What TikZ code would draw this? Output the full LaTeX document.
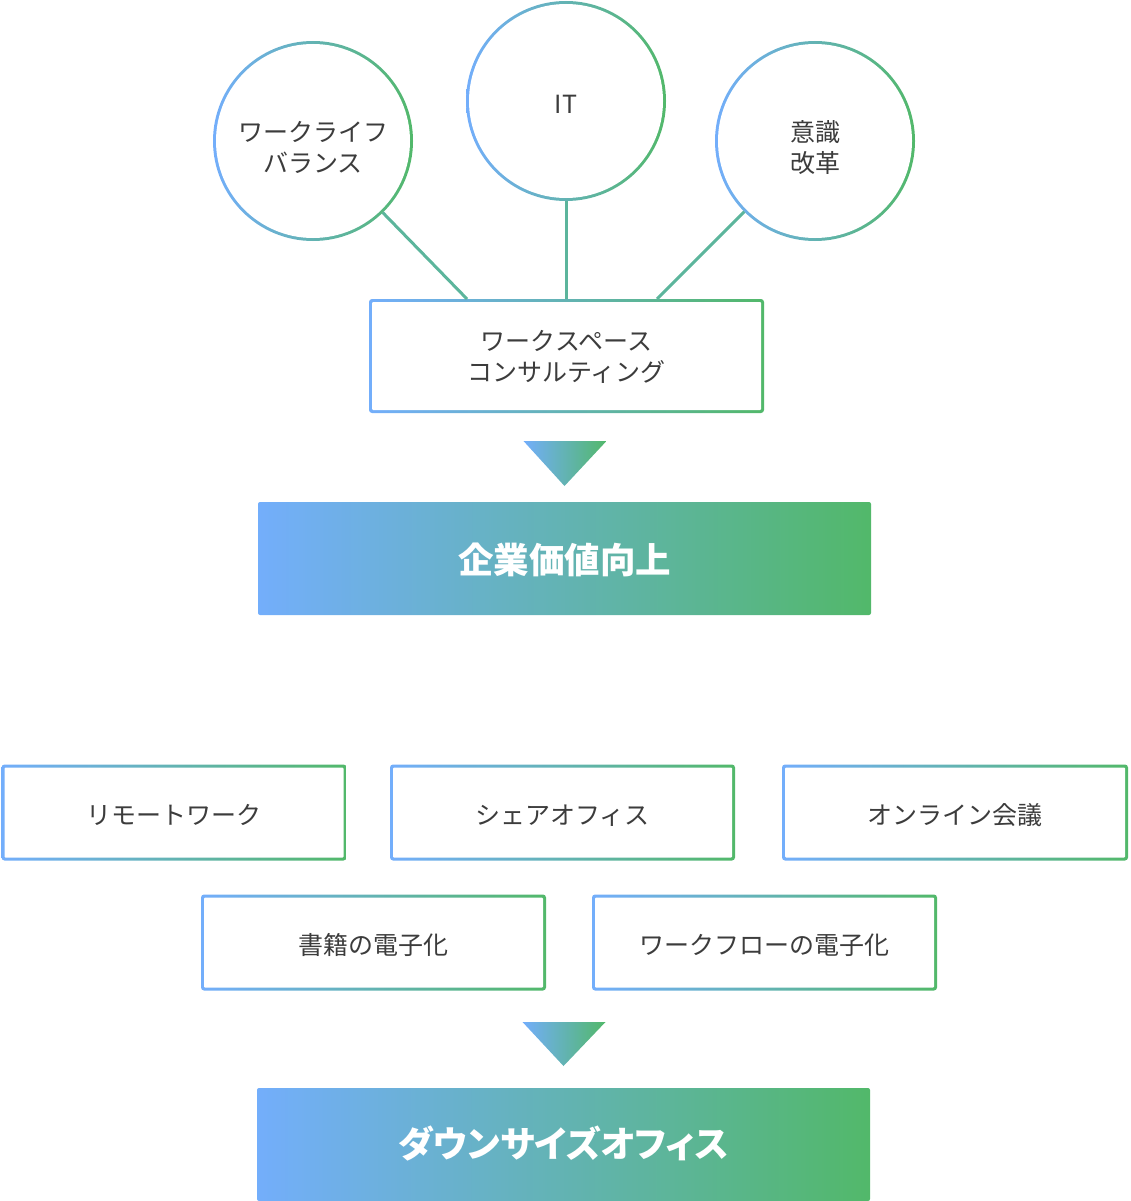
\documentclass[tikz,border=0pt]{standalone}
\usepackage{fontspec}
\newfontfamily\jpfont{Noto Sans CJK JP}
\usetikzlibrary{calc}

\definecolor{gblue}{HTML}{73AEFB}
\definecolor{ggreen}{HTML}{52B86A}
\definecolor{gteal}{HTML}{5CB59C}
\definecolor{txt}{HTML}{3C3C3C}

\begin{document}
\begin{tikzpicture}[x=1pt, y=-1pt,
    every node/.style={outer sep=0pt, inner sep=0pt, text height=23pt, text depth=0pt},
    ring/.style={circle, minimum size=200pt, left color=gblue, right color=ggreen,
        path picture={\fill[white] (path picture bounding box.center) circle (97pt);},
        text=txt, font=\jpfont\fontsize{25}{31}\selectfont, align=center},
    frame/.style={rectangle, rounded corners=3pt, left color=gblue, right color=ggreen,
        path picture={\fill[white, rounded corners=1pt]
            ([shift={(3pt,3pt)}]path picture bounding box.south west) rectangle
            ([shift={(-3pt,-3pt)}]path picture bounding box.north east);},
        text=txt, font=\jpfont\fontsize{25}{31}\selectfont, align=center},
    banner/.style={rectangle, rounded corners=2pt, left color=gblue, right color=ggreen,
        minimum width=613pt, minimum height=113pt, text height=29pt,
        text=white, font=\jpfont\bfseries\fontsize{35.5}{40}\selectfont},
    link/.style={gteal, line width=3pt},
    arrowhead/.style={left color=gblue, right color=ggreen}]

    \useasboundingbox (0,0) rectangle (1130,1201);

    % three themes
    \node[ring, text height=64pt] (wlb) at (313,141) {ワークライフ\\バランス};
    \node[ring, text height=25pt] (it) at (566,101) {IT};
    \node[ring, text height=64pt] (mind) at (815,141) {意識\\改革};

    \node[frame, minimum width=395pt, minimum height=114pt, text height=50pt] (ws) at (566.5,356) {ワークスペース\\コンサルティング};

    \draw[link] (wlb) -- ([xshift=98pt]ws.north west);
    \draw[link] (it) -- (it |- ws.north);
    \draw[link] (mind) -- ([xshift=-107pt]ws.north east);

    \shade[arrowhead] ($(ws.south)+(-43,28)$) -- ($(ws.south)+(40,28)$) -- ($(ws.south)+(-2,73)$) -- cycle;

    \node[banner] (value) at (564.5,558.5) {企業価値向上};

    % measures
    \node[frame, minimum width=345pt, minimum height=96pt] (remote) at (174,812.5) {リモートワーク};
    \node[frame, minimum width=345pt, minimum height=96pt] (share) at (562.5,812.5) {シェアオフィス};
    \node[frame, minimum width=346pt, minimum height=96pt] (online) at (955,812.5) {オンライン会議};
    \node[frame, minimum width=345pt, minimum height=96pt] (books) at (373.5,942.5) {書籍の電子化};
    \node[frame, minimum width=345pt, minimum height=96pt] (flow) at (764.5,942.5) {ワークフローの電子化};

    \node[banner, text height=26pt, font=\jpfont\bfseries\fontsize{36}{40}\selectfont\addfontfeatures{RawFeature=+palt}] (down) at (563.5,1144.5) {ダウンサイズオフィス};

    \shade[arrowhead] ($(down.north)+(-41,-66)$) -- ($(down.north)+(42,-66)$) -- ($(down.north)+(0,-22)$) -- cycle;

\end{tikzpicture}
\end{document}
